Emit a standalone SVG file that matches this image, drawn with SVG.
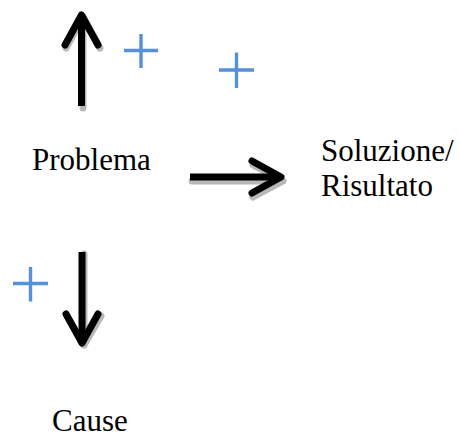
<svg xmlns="http://www.w3.org/2000/svg" width="459" height="437" viewBox="0 0 459 437">
<style>
.lbl{font-family:"Liberation Serif","Times New Roman",serif;font-size:31px;fill:#000}
.arr{fill:none;stroke:#000;stroke-width:7;stroke-linejoin:round;stroke-linecap:butt}
.arrh{fill:none;stroke:#000;stroke-width:7;stroke-linejoin:round;stroke-linecap:round}
.sh{fill:none;stroke:#a0a0a0;stroke-width:7;stroke-linejoin:round;stroke-linecap:round;opacity:0.75}
.plus{fill:none;stroke:#5590d8;stroke-width:3.4}
</style>
<rect width="459" height="437" fill="#fff"/>
<g id="decor">
<path class="plus" d="M124 50.5H158M141 34V68"/>
<path class="plus" d="M219 70H254M236.5 52.5V88"/>
<path class="plus" d="M13 283.5H48M30.5 267V301.5"/>
</g>
<g id="connectors">
<g id="arrow-up">
<path class="sh" d="M83 108V17M66 48L83 17L100 48"/>
<path class="arr" d="M81.5 106V15"/>
<path class="arrh" d="M65 45L81.5 15L98 45"/>
</g>
<g id="arrow-right">
<path class="sh" d="M192 181H283M253 165L283 181L253 197"/>
<path class="arr" d="M190 177H281"/>
<path class="arrh" d="M252 161L281 177L252 193"/>
</g>
<g id="arrow-down">
<path class="sh" d="M84 254V345M67 316L84 345L101 316"/>
<path class="arr" d="M82 252V343"/>
<path class="arrh" d="M66 314L82 343L98 314"/>
</g>
</g>
<g id="node-problema"><text class="lbl" x="32" y="170">Problema</text></g>
<g id="node-soluzione"><text class="lbl" x="321" y="161">Soluzione/</text><text class="lbl" x="321" y="196">Risultato</text></g>
<g id="node-cause"><text class="lbl" x="52" y="431">Cause</text></g>
</svg>
